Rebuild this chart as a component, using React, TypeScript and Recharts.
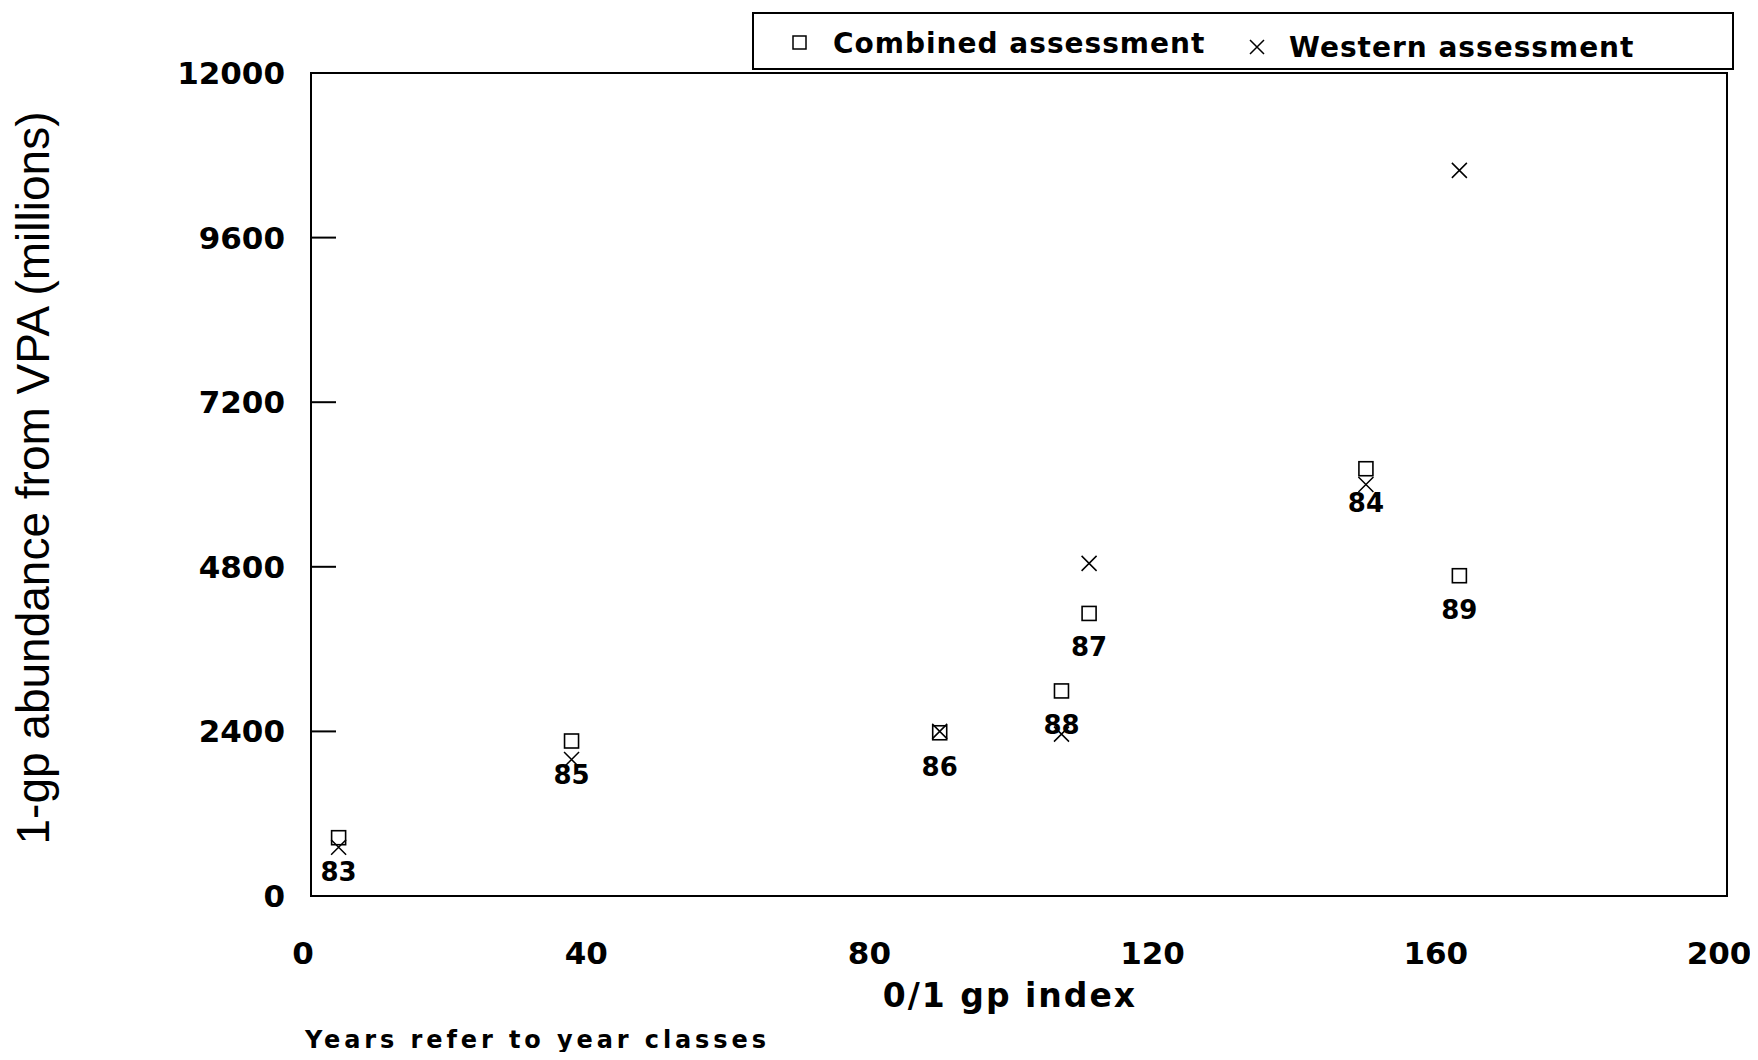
import React from "react";
import { ScatterChart, Scatter, XAxis, YAxis, ReferenceArea } from "recharts";

// year classes and the 0/1 gp index they sit at
const years = ["83", "84", "85", "86", "87", "88", "89"];
const gpIndex = [3.9, 149, 36.8, 88.8, 109.9, 106, 162.2];
// 1-gp abundance from VPA (millions)
const combined = [850, 6230, 2260, 2380, 4120, 2990, 4670];
const western = [710, 6000, 1990, 2400, 4850, 2360, 10580];

const xTicks = [0, 40, 80, 120, 160, 200];
const yTicks = [0, 2400, 4800, 7200, 9600, 12000];

const combinedData = years.map((year, i) => ({ year, x: gpIndex[i], y: combined[i] }));
const westernData = years.map((year, i) => ({ year, x: gpIndex[i], y: western[i] }));

const tickFont = "'DejaVu Sans', sans-serif";

const SquareShape = (props: any) => {
  const { cx, cy, payload } = props;
  return (
    <g>
      <rect x={cx - 7} y={cy - 7} width={14} height={14} fill="none" stroke="#000" strokeWidth={1.6} />
      <text
        x={cx}
        y={cy + 34}
        textAnchor="middle"
        dominantBaseline="central"
        fontFamily={tickFont}
        fontWeight="bold"
        fontSize={26}
        fill="#000"
      >
        {payload.year}
      </text>
    </g>
  );
};

const CrossShape = (props: any) => {
  const { cx, cy } = props;
  const s = 7.5;
  return (
    <path
      d={`M${cx - s},${cy - s}L${cx + s},${cy + s}M${cx - s},${cy + s}L${cx + s},${cy - s}`}
      stroke="#000"
      strokeWidth={1.5}
      fill="none"
    />
  );
};

const YTick = ({ x, y, payload }: any) => (
  <g>
    <line x1={x + 26} x2={x + 51} y1={y} y2={y} stroke="#000" strokeWidth={2} />
    <text
      x={x}
      y={y}
      textAnchor="end"
      dominantBaseline="central"
      fontFamily={tickFont}
      fontWeight="bold"
      fontSize={31}
      fill="#000"
    >
      {payload.value}
    </text>
  </g>
);

const XTick = ({ x, y, payload }: any) => (
  <text
    x={x - 8}
    y={y}
    textAnchor="middle"
    dominantBaseline="central"
    fontFamily={tickFont}
    fontWeight="bold"
    fontSize={31}
    fill="#000"
  >
    {payload.value}
  </text>
);

export default function App() {
  return (
    <div style={{ position: "relative", width: 1746, height: 1044, background: "#fff", fontFamily: tickFont }}>
      <ScatterChart width={1746} height={1044} margin={{ top: 65, right: 27, bottom: 56, left: 103 }}>
        <XAxis
          type="number"
          dataKey="x"
          domain={[0, 200]}
          ticks={xTicks}
          interval={0}
          height={100}
          tickLine={false}
          tickSize={0}
          tickMargin={57}
          tick={<XTick />}
          axisLine={{ stroke: "#000", strokeWidth: 2 }}
        />
        <YAxis
          type="number"
          dataKey="y"
          domain={[0, 12000]}
          ticks={yTicks}
          interval={0}
          width={200}
          tickLine={false}
          tickSize={0}
          tickMargin={26}
          tick={<YTick />}
          axisLine={{ stroke: "#000", strokeWidth: 2 }}
        />
        <ReferenceArea x1={0} x2={200} y1={0} y2={12000} fill="none" stroke="#000" strokeWidth={2} />
        <Scatter name="Combined assessment" data={combinedData} shape={<SquareShape />} isAnimationActive={false} />
        <Scatter name="Western assessment" data={westernData} shape={<CrossShape />} isAnimationActive={false} />
      </ScatterChart>

      {/* legend box */}
      <div
        style={{
          position: "absolute",
          left: 744,
          top: 4,
          width: 982,
          height: 58,
          border: "2px solid #000",
          boxSizing: "border-box",
          fontWeight: "bold",
          fontSize: 28,
          letterSpacing: 1,
        }}
      >
        <svg style={{ position: "absolute", left: 38, top: 21 }} width={16} height={16}>
          <rect x={1} y={1} width={13} height={13} fill="none" stroke="#000" strokeWidth={1.5} />
        </svg>
        <span style={{ position: "absolute", left: 79, top: 30, transform: "translateY(-50%)", lineHeight: 1, whiteSpace: "nowrap" }}>
          Combined assessment
        </span>
        <svg style={{ position: "absolute", left: 494, top: 24 }} width={18} height={18}>
          <path d="M2,2L16,16M2,16L16,2" stroke="#000" strokeWidth={1.5} />
        </svg>
        <span style={{ position: "absolute", left: 535, top: 34, transform: "translateY(-50%)", lineHeight: 1, whiteSpace: "nowrap" }}>
          Western assessment
        </span>
      </div>

      {/* y axis title */}
      <div
        style={{
          position: "absolute",
          left: 25,
          top: 470,
          transform: "translate(-50%, -50%) rotate(-90deg)",
          fontFamily: "'Liberation Sans', Arial, sans-serif",
          fontSize: 46,
          whiteSpace: "nowrap",
          lineHeight: 1,
          color: "#000",
        }}
      >
        1-gp abundance from VPA (millions)
      </div>

      {/* x axis title */}
      <div
        style={{
          position: "absolute",
          left: 1002,
          top: 987,
          transform: "translate(-50%, -50%)",
          fontWeight: "bold",
          fontSize: 33,
          letterSpacing: 2,
          whiteSpace: "nowrap",
          lineHeight: 1,
        }}
      >
        0/1 gp index
      </div>

      {/* footnote */}
      <div
        style={{
          position: "absolute",
          left: 297,
          top: 1032,
          transform: "translateY(-50%)",
          fontWeight: "bold",
          fontSize: 24,
          letterSpacing: 3.9,
          whiteSpace: "nowrap",
          lineHeight: 1,
        }}
      >
        Years refer to year classes
      </div>
    </div>
  );
}
